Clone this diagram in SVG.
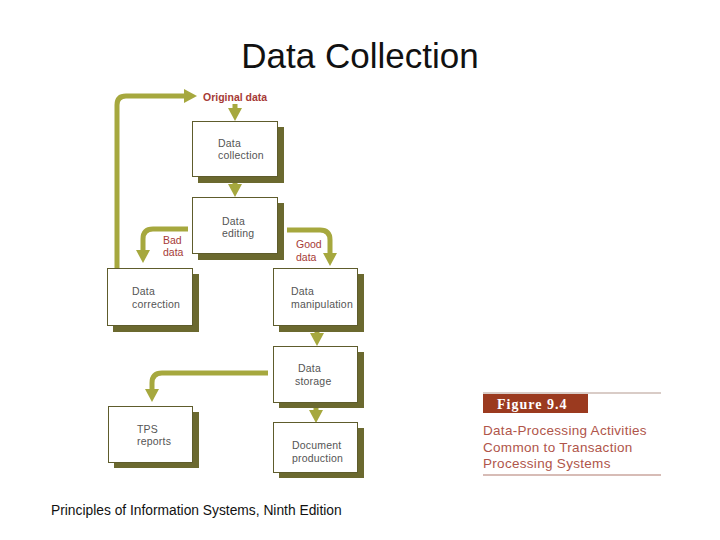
<svg xmlns="http://www.w3.org/2000/svg" width="720" height="540" viewBox="0 0 720 540">
<style>
.box{fill:#ffffff;stroke:#5e5c2c;stroke-width:1}
.shadow{fill:#6b692f}
.lbl{font-family:"Liberation Sans",Arial,sans-serif;font-size:10.5px;fill:#555555;letter-spacing:0.2px}
.red{font-family:"Liberation Sans",Arial,sans-serif;font-size:10.5px;fill:#a63a36}
.conn{fill:none;stroke:#a6a83e;stroke-width:5}
.cap{font-family:"Liberation Sans",Arial,sans-serif;font-size:13.5px;fill:#b0554a;letter-spacing:0.3px}
</style>
<defs>
<marker id="ah" viewBox="0 0 13 14" refX="2" refY="7" markerWidth="13" markerHeight="14" markerUnits="userSpaceOnUse" orient="auto">
<path d="M0,0 L13,7 L0,14 z" fill="#a6a83e"/>
</marker>
</defs>
<rect width="720" height="540" fill="#ffffff"/>
<text x="360" y="68" text-anchor="middle" font-family="Liberation Sans,Arial,sans-serif" font-size="35" fill="#111">Data Collection</text>

<g id="connectors">
<path class="conn" marker-end="url(#ah)" d="M117,268 V105 Q117,96 126,96 H186"/>
<path class="conn" marker-end="url(#ah)" d="M235,104 V110"/>
<path class="conn" marker-end="url(#ah)" d="M235,182 V186"/>
<path class="conn" marker-end="url(#ah)" d="M188,229 H153 Q143,229 143,239 V252"/>
<path class="conn" marker-end="url(#ah)" d="M287,230 H320 Q330,230 330,240 V255"/>
<path class="conn" marker-end="url(#ah)" d="M317,332 V335"/>
<path class="conn" marker-end="url(#ah)" d="M268,373 H162 Q152,373 152,383 V391"/>
<path class="conn" marker-end="url(#ah)" d="M316,408 V412"/>
</g>

<g id="original-data">
<text x="203" y="101" class="red" font-size="10px" font-weight="bold" fill="#b8352b">Original data</text>
</g>

<g id="data-collection">
<rect class="shadow" x="198" y="127" width="86" height="56"/>
<rect class="box" x="192.5" y="121.5" width="85" height="55"/>
<text class="lbl" x="218" y="147">Data</text>
<text class="lbl" x="218" y="159">collection</text>
</g>

<g id="data-editing">
<rect class="shadow" x="198" y="203" width="86" height="57"/>
<rect class="box" x="192.5" y="197.5" width="85" height="56"/>
<text class="lbl" x="222" y="225">Data</text>
<text class="lbl" x="222" y="237">editing</text>
</g>

<g id="bad-data">
<text class="red" x="163" y="244">Bad</text>
<text class="red" x="163" y="256">data</text>
</g>

<g id="good-data">
<text class="red" x="296" y="248">Good</text>
<text class="red" x="296" y="261">data</text>
</g>

<g id="data-correction">
<rect class="shadow" x="113" y="274" width="86" height="58"/>
<rect class="box" x="107.5" y="268.5" width="85" height="57"/>
<text class="lbl" x="132" y="295">Data</text>
<text class="lbl" x="132" y="308">correction</text>
</g>

<g id="data-manipulation">
<rect class="shadow" x="279" y="274" width="85" height="58"/>
<rect class="box" x="273.5" y="268.5" width="84" height="57"/>
<text class="lbl" x="291" y="295">Data</text>
<text class="lbl" x="291" y="308">manipulation</text>
</g>

<g id="data-storage">
<rect class="shadow" x="279" y="352" width="85" height="56"/>
<rect class="box" x="273.5" y="346.5" width="84" height="56"/>
<text class="lbl" x="298" y="372">Data</text>
<text class="lbl" x="295" y="385">storage</text>
</g>

<g id="tps-reports">
<rect class="shadow" x="114" y="412" width="85" height="56"/>
<rect class="box" x="108.5" y="406.5" width="84" height="56"/>
<text class="lbl" x="137" y="433">TPS</text>
<text class="lbl" x="137" y="445">reports</text>
</g>

<g id="document-production">
<rect class="shadow" x="279" y="428" width="85" height="50"/>
<rect class="box" x="273.5" y="422.5" width="84" height="50"/>
<text class="lbl" x="292" y="449">Document</text>
<text class="lbl" x="292" y="462">production</text>
</g>

<g id="figure-caption">
<line x1="483" y1="393" x2="661" y2="393" stroke="#b49a90" stroke-width="1.2"/>
<rect x="483" y="394" width="105" height="19" fill="#9b3a1f"/>
<text x="497" y="409" font-family="Liberation Serif,Times New Roman,serif" font-size="14" font-weight="bold" fill="#ffffff" letter-spacing="1">Figure 9.4</text>
<text class="cap" x="483" y="435">Data-Processing Activities</text>
<text class="cap" x="483" y="452">Common to Transaction</text>
<text class="cap" x="483" y="468">Processing Systems</text>
<line x1="483" y1="475" x2="661" y2="475" stroke="#b07a6e" stroke-width="1.2"/>
</g>

<text x="51" y="515" font-family="Liberation Sans,Arial,sans-serif" font-size="13.8" fill="#111">Principles of Information Systems, Ninth Edition</text>
</svg>
